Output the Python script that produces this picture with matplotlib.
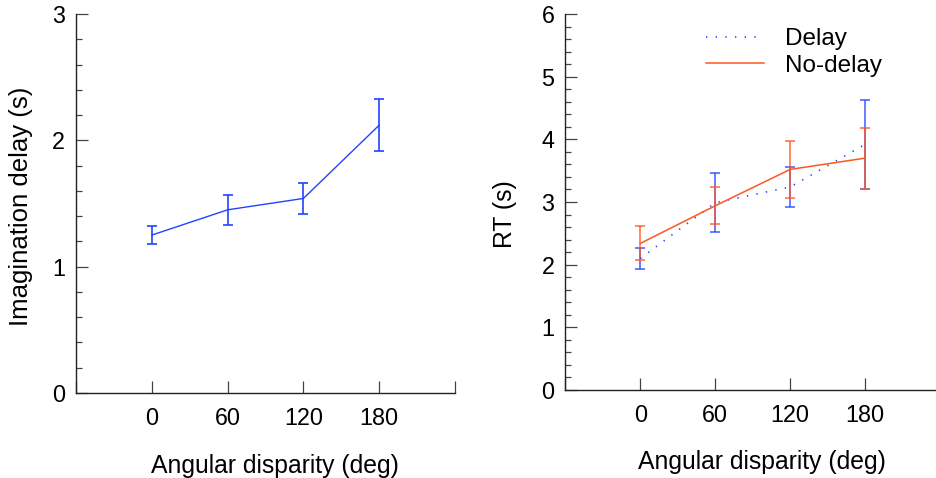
import matplotlib
matplotlib.use("Agg")
import matplotlib.pyplot as plt
from matplotlib.ticker import MultipleLocator, FixedLocator

plt.rcParams['font.family'] = ['Liberation Sans', 'DejaVu Sans']

# Data
angles = [0, 60, 120, 180]
tick_labels = ["0", "60", "120", "180"]

imag_mean = [1.25, 1.45, 1.54, 2.12]
imag_err = [0.07, 0.117, 0.12, 0.205]

delay_mean = [2.10, 2.99, 3.24, 3.92]
delay_err = [0.17, 0.475, 0.32, 0.705]

nodelay_mean = [2.34, 2.94, 3.52, 3.70]
nodelay_err = [0.27, 0.295, 0.46, 0.485]

BLUE = '#2244ff'
ORANGE = '#ff5522'
TICK_FS = 16.8
LABEL_FS = 17.8

fig = plt.figure(figsize=(9.37, 4.78), dpi=100)
W, H = 937, 478

def px_axes(x0, y0, x1, y1):
    return fig.add_axes([x0 / W, 1 - y1 / H, (x1 - x0) / W, (y1 - y0) / H])

ax1 = px_axes(76, 14, 455, 393)
ax2 = px_axes(565.5, 14, 940, 390)

def style(ax, ymax):
    ax.set_xlim(-60, 240)
    ax.set_ylim(0, ymax)
    for s in ['top', 'right']:
        ax.spines[s].set_visible(False)
    for s in ['left', 'bottom']:
        ax.spines[s].set_linewidth(1.0)
        ax.spines[s].set_color('#222222')
    ax.xaxis.set_major_locator(FixedLocator([-60] + angles + [240]))
    ax.set_xticklabels([""] + tick_labels + [""])
    ax.yaxis.set_major_locator(MultipleLocator(1))
    ax.yaxis.set_minor_locator(MultipleLocator(0.2))
    ax.tick_params(axis='both', which='major', direction='in', length=8.5,
                   width=0.9, color='#444444', labelsize=TICK_FS)
    ax.tick_params(axis='y', which='minor', direction='in', length=4.5,
                   width=0.9, color='#444444')
    ax.tick_params(axis='x', which='major', pad=10)
    ax.tick_params(axis='y', which='major', pad=8)
    ax.set_xlabel("Angular disparity (deg)", fontsize=LABEL_FS, labelpad=17)
    ax.xaxis.label.set_x(0.525)

style(ax1, 3)
style(ax2, 6)

ax1.errorbar(angles, imag_mean, yerr=imag_err, color=BLUE, lw=1.0,
             elinewidth=1.2, capsize=3.5, capthick=1.2)
ax1.set_ylabel("Imagination delay (s)", fontsize=18.5)
ax1.yaxis.set_label_coords(-0.113, 0.492)

ax2.errorbar(angles, delay_mean, yerr=delay_err, fmt='none', ecolor=BLUE,
             elinewidth=1.3, capsize=3.8, capthick=1.3, alpha=0.75)
ax2.errorbar(angles, nodelay_mean, yerr=nodelay_err, fmt='none', ecolor=ORANGE,
             elinewidth=1.3, capsize=3.8, capthick=1.3, alpha=0.75)
l1, = ax2.plot(angles, delay_mean, color=BLUE, lw=1.2, linestyle=(0, (0.8, 5)),
               label="Delay")
l2, = ax2.plot(angles, nodelay_mean, color=ORANGE, lw=1.1, label="No-delay")
ax2.set_ylabel("RT (s)", fontsize=LABEL_FS)
ax2.yaxis.set_label_coords(-0.129, 0.468)

fig.legend(handles=[l1, l2], loc='upper left',
           bbox_to_anchor=(706 / W, 1 - 28 / H), frameon=False,
           fontsize=17.5, handlelength=2.4, handletextpad=0.85,
           labelspacing=0.2, borderpad=0, borderaxespad=0)

fig.savefig("out.png", dpi=100)
